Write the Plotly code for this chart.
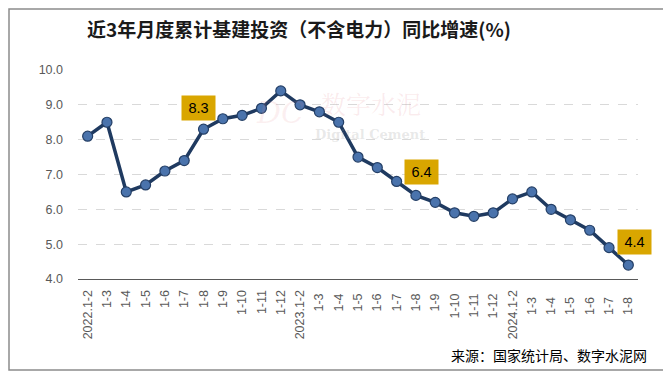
import plotly.graph_objects as go

categories = ["2022.1-2", "1-3", "1-4", "1-5", "1-6", "1-7", "1-8", "1-9", "1-10", "1-11", "1-12",
              "2023.1-2", "1-3 ", "1-4 ", "1-5 ", "1-6 ", "1-7 ", "1-8 ", "1-9 ", "1-10 ", "1-11 ", "1-12 ",
              "2024.1-2", "1-3  ", "1-4  ", "1-5  ", "1-6  ", "1-7  ", "1-8  "]
values = [8.1, 8.5, 6.5, 6.7, 7.1, 7.4, 8.3, 8.6, 8.7, 8.9, 9.4,
          9.0, 8.8, 8.5, 7.5, 7.2, 6.8, 6.4, 6.2, 5.9, 5.8, 5.9,
          6.3, 6.5, 6.0, 5.7, 5.4, 4.9, 4.4]
label_idx = [6, 17, 28]
y_ticks = [4.0, 5.0, 6.0, 7.0, 8.0, 9.0, 10.0]

# page pixel -> paper coords (plot area spans x 78..638, y 70..279 on the page)
def px(x):
    return (x - 78) / 560

def py(y):
    return (279 - y) / 209

fig = go.Figure()
fig.add_trace(go.Scatter(
    x=categories, y=values, mode="lines+markers",
    line=dict(color="#1F3A60", width=3.5),
    marker=dict(size=10, color="#4A73AC", line=dict(color="#243F66", width=1.2)),
    hoverinfo="skip", showlegend=False,
))

offsets = {6: (-5, -21), 17: (6, -23), 28: (6, -23)}
for i in label_idx:
    dx, dy = offsets[i]
    fig.add_annotation(
        x=categories[i], y=values[i], text=f"{values[i]:.1f}",
        showarrow=True, arrowcolor="rgba(0,0,0,0)", ax=dx, ay=dy,
        bgcolor="#D9A600", borderpad=4, width=25, height=16,
        font=dict(family="Liberation Sans, Arial", size=14.5, color="#000000"),
    )

# watermark
fig.add_annotation(xref="paper", yref="paper", x=px(371), y=py(103), xanchor="center", yanchor="middle",
                   text="数字水泥", showarrow=False,
                   font=dict(family="Noto Serif CJK SC, Noto Sans CJK SC", size=25,
                             color="rgba(225,130,140,0.16)"))
fig.add_annotation(xref="paper", yref="paper", x=px(370), y=py(134), xanchor="center", yanchor="middle",
                   text="<b>Digital Cement</b>", showarrow=False,
                   font=dict(family="DejaVu Serif", size=13, color="rgba(140,140,140,0.2)"))
fig.add_annotation(xref="paper", yref="paper", x=px(280), y=py(112), xanchor="center", yanchor="middle",
                   text="<i>DC</i>", showarrow=False,
                   font=dict(family="DejaVu Serif", size=30, color="rgba(225,130,140,0.12)"))

fig.add_annotation(xref="paper", yref="paper", x=px(299), y=py(28), xanchor="center", yanchor="middle",
                   text="<b>近3年月度累计基建投资（不含电力）同比增速(%)</b>", showarrow=False,
                   font=dict(family="Noto Sans CJK SC", size=19, color="#1a1a1a"))
fig.add_annotation(xref="paper", yref="paper", x=px(649), y=py(355), xanchor="right", yanchor="middle",
                   text="来源：国家统计局、数字水泥网", showarrow=False,
                   font=dict(family="Noto Sans CJK SC", size=14, color="#000000"))

fig.update_layout(
    template="none",
    width=663, height=370,
    margin=dict(l=70, r=33, t=62, b=99, autoexpand=False),
    paper_bgcolor="white", plot_bgcolor="white",
    xaxis=dict(type="category", range=[-0.5, len(categories) - 0.5], tickangle=-90,
               showgrid=False, showline=True, automargin=False, ticklabelstandoff=5,
               linecolor="#595959", linewidth=1, ticks="",
               tickfont=dict(family="Liberation Sans, Arial", size=12.5, color="#595959")),
    yaxis=dict(range=[4.0, 10.0], tickvals=y_ticks, ticktext=[f"{v:.1f}" for v in y_ticks],
               showgrid=True, gridcolor="#D9D9D9", griddash="dash", gridwidth=1, automargin=False,
               zeroline=False, showline=False, ticks="", ticklabelstandoff=14,
               tickfont=dict(family="Liberation Sans, Arial", size=12.5, color="#595959")),
)
fig.add_shape(type="rect", xref="paper", yref="paper",
              x0=px(9), x1=px(667), y0=py(370), y1=py(9),
              line=dict(color="#8C8C8C", width=1.5))

fig.write_html("out.html")
